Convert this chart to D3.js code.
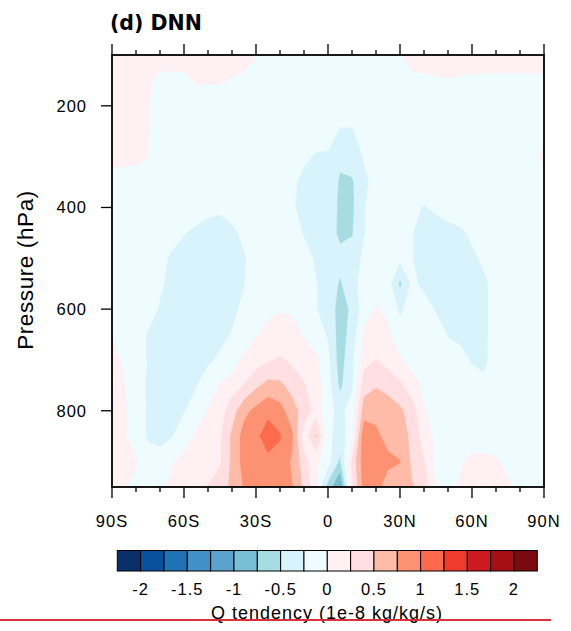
<!DOCTYPE html>
<html><head><meta charset="utf-8">
<script src="https://cdn.jsdelivr.net/npm/d3@7"></script>
<style>body{margin:0;background:#fff}svg{display:block}</style>
</head><body>
<svg id="c" width="571" height="631"></svg>
<script>
// ---- data ----
const lats = [-90,-85,-80,-75,-70,-65,-60,-55,-50,-45,-40,-35,-30,-25,-20,-15,-10,-5,0,5,10,15,20,25,30,35,40,45,50,55,60,65,70,75,80,85,90];
const levels = [100,150,200,250,300,350,400,450,500,550,600,650,700,750,800,850,900,950];

// Q tendency (1e-8 kg/kg/s), one row per pressure level, lat -90..90
const q100 = [0.1,0.1,0.1,0.1,0.1,0.1,0.1,0.1,0.1,0.1,0.1,0.1, 0.01,-0.1,-0.1,-0.1,-0.1,-0.1,-0.1,-0.1,-0.1,-0.1,-0.1,-0.1, -0.02,0.1,0.1,0.1,0.1,0.1,0.1,0.1,0.1,0.1,0.1,0.1,0.1];
const q150 = [0.1,0.1,0.1,0.03,-0.05,-0.06,-0.05,0.02,0.02,0.02,-0.01,-0.05, -0.1,-0.1,-0.1,-0.1,-0.1,-0.1,-0.1,-0.1,-0.1,-0.1,-0.1,-0.1, -0.08,-0.06,-0.04,-0.02,-0.01,-0.02,-0.03,-0.04,-0.04,-0.04,-0.04,-0.04,-0.03];
const q200 = [0.1,0.1,0.08,0.01,-0.1,-0.1,-0.1,-0.1,-0.1,-0.1,-0.1,-0.1, -0.1,-0.1,-0.1,-0.1,-0.1,-0.1,-0.1,-0.12,-0.12,-0.1,-0.1,-0.1, -0.1,-0.1,-0.1,-0.1,-0.1,-0.1,-0.1,-0.1,-0.1,-0.1,-0.1,-0.1,-0.08];
const q250 = [0.1,0.1,0.08,0.01,-0.1,-0.1,-0.1,-0.1,-0.1,-0.1,-0.1,-0.1, -0.1,-0.1,-0.1,-0.1,-0.1,-0.1,-0.15,-0.27,-0.27,-0.15,-0.1,-0.1, -0.1,-0.1,-0.1,-0.1,-0.1,-0.1,-0.1,-0.1,-0.1,-0.1,-0.1,-0.1,-0.05];
const q300 = [0.1,0.08,0.05,0.005,-0.1,-0.1,-0.1,-0.1,-0.1,-0.1,-0.1,-0.1, -0.1,-0.1,-0.1,-0.1,-0.2,-0.28,-0.28,-0.45,-0.38,-0.23,-0.15,-0.1, -0.1,-0.1,-0.1,-0.1,-0.1,-0.1,-0.1,-0.1,-0.1,-0.1,-0.1,-0.08,0.05];
const q350 = [-0.15,-0.12,-0.1,-0.1,-0.1,-0.1,-0.1,-0.1,-0.1,-0.1,-0.1,-0.1, -0.1,-0.1,-0.1,-0.2,-0.32,-0.33,-0.35,-0.53,-0.53,-0.3,-0.18,-0.1, -0.1,-0.1,-0.1,-0.1,-0.1,-0.1,-0.1,-0.1,-0.1,-0.1,-0.1,-0.1,-0.08];
const q400 = [-0.12,-0.1,-0.1,-0.1,-0.1,-0.1,-0.1,-0.12,-0.2,-0.22,-0.15,-0.1, -0.1,-0.1,-0.1,-0.22,-0.32,-0.33,-0.35,-0.55,-0.55,-0.26,-0.15,-0.12, -0.12,-0.18,-0.27,-0.2,-0.12,-0.1,-0.1,-0.1,-0.1,-0.1,-0.1,-0.1,-0.1];
const q450 = [-0.1,-0.1,-0.1,-0.1,-0.12,-0.18,-0.24,-0.3,-0.32,-0.33,-0.3,-0.2, -0.12,-0.1,-0.1,-0.12,-0.27,-0.33,-0.36,-0.56,-0.52,-0.26,-0.15,-0.1, -0.15,-0.24,-0.35,-0.37,-0.35,-0.3,-0.2,-0.15,-0.12,-0.1,-0.1,-0.1,-0.1];
const q500 = [-0.1,-0.1,-0.1,-0.12,-0.2,-0.28,-0.33,-0.35,-0.36,-0.36,-0.33,-0.27, -0.15,-0.1,-0.1,-0.1,-0.15,-0.28,-0.35,-0.42,-0.38,-0.2,-0.12,-0.12, -0.2,-0.24,-0.35,-0.37,-0.37,-0.35,-0.3,-0.2,-0.12,-0.1,-0.1,-0.1,-0.1];
const q550 = [-0.1,-0.1,-0.1,-0.12,-0.22,-0.3,-0.35,-0.36,-0.36,-0.35,-0.32,-0.26, -0.14,-0.1,-0.1,-0.1,-0.12,-0.24,-0.34,-0.53,-0.34,-0.15,-0.1,-0.15, -0.55,-0.2,-0.3,-0.35,-0.37,-0.36,-0.34,-0.3,-0.15,-0.1,-0.1,-0.1,-0.1];
const q600 = [-0.1,-0.1,-0.12,-0.15,-0.27,-0.33,-0.34,-0.35,-0.34,-0.33,-0.3,-0.2, -0.1,-0.05,-0.02,-0.03,-0.1,-0.24,-0.33,-0.62,-0.45,-0.12,0.02,-0.05, -0.3,-0.12,-0.15,-0.27,-0.33,-0.35,-0.33,-0.3,-0.15,-0.1,-0.1,-0.1,-0.1];
const q650 = [-0.02,-0.08,-0.12,-0.27,-0.33,-0.34,-0.34,-0.33,-0.33,-0.3,-0.24,-0.15, -0.02,0.07,0.12,0.1,-0.02,-0.15,-0.27,-0.62,-0.4,0.05,0.12,0.05, -0.15,-0.12,-0.12,-0.15,-0.26,-0.3,-0.32,-0.3,-0.15,-0.1,-0.1,-0.1,-0.1];
const q700 = [0.1,-0.05,-0.12,-0.27,-0.33,-0.33,-0.32,-0.3,-0.28,-0.22,-0.15,0.05, 0.12,0.22,0.28,0.2,0.12,0.06,-0.2,-0.62,-0.3,0.15,0.26,0.15, 0.03,-0.08,-0.1,-0.12,-0.15,-0.18,-0.27,-0.3,-0.14,-0.1,-0.1,-0.1,-0.1];
const q750 = [0.1,0.01,-0.12,-0.28,-0.32,-0.3,-0.28,-0.26,-0.15,0.03,0.15,0.26, 0.45,0.58,0.55,0.42,0.27,0.1,-0.15,-0.55,-0.3,0.4,0.48,0.4, 0.3,0.1,-0.05,-0.08,-0.1,-0.12,-0.15,-0.2,-0.12,-0.1,-0.1,-0.1,-0.1];
const q800 = [0.1,0.03,-0.1,-0.28,-0.3,-0.28,-0.26,-0.18,0.01,0.15,0.38,0.68, 0.82,0.95,0.85,0.6,0.4,0.15,-0.15,-0.35,-0.1,0.62,0.68,0.65, 0.55,0.38,0.02,-0.08,-0.1,-0.1,-0.1,-0.1,-0.1,-0.1,-0.1,-0.1,-0.1];
const q850 = [0.1,0.03,-0.1,-0.28,-0.3,-0.26,-0.15,0.05,0.15,0.22,0.55,0.85, 0.95,1.1,1.02,0.8,0.1,0.52,-0.18,-0.38,-0.1,0.95,0.8,0.68, 0.6,0.45,0.12,-0.05,-0.1,-0.08,-0.1,-0.1,-0.1,-0.1,-0.1,-0.1,-0.1];
const q900 = [0.1,0.05,0.02,-0.15,-0.18,-0.02,0.1,0.12,0.15,0.22,0.55,0.85, 0.9,0.95,0.9,0.72,0.35,0.05,-0.15,-0.55,0.3,0.9,0.85,0.8, 0.76,0.45,0.27,-0.05,-0.1,-0.02,0.05,0.05,0.03,-0.05,-0.1,-0.1,-0.1];
const q950 = [0.05,0.02,-0.05,-0.1,-0.05,0.05,0.1,0.12,0.26,0.38,0.55,0.77, 0.85,0.9,0.88,0.76,0.45,0.05,-0.6,-1.05,0.2,0.85,0.82,0.65, 0.6,0.52,0.4,-0.01,-0.05,0.02,0.08,0.1,0.08,0.03,-0.05,-0.1,-0.1];

const thresholds = [-2,-1.75,-1.5,-1.25,-1,-0.75,-0.5,-0.25,0,0.25,0.5,0.75,1,1.25,1.5,1.75,2];
const colors = ["#0a2f6b","#0a519d","#2171b5","#4191c6","#5ba3cb","#78bfd5","#a8dce3","#d8f3fc","#eefbff",
                "#fff0f4","#ffdfe1","#fdbba8","#fc9272","#fd6a4c","#ef3b2c","#cc1a20","#a51016","#7a0a0e"];
const xTicks = [-90,-60,-30,0,30,60,90];
const xTickLabels = ["90S","60S","30S","0","30N","60N","90N"];
const xMinor = [-80,-70,-50,-40,-20,-10,10,20,40,50,70,80];
const yTicks = [200,400,600,800];
const cbLabels = ["-2","-1.5","-1","-0.5","0","0.5","1","1.5","2"];
const cbLabelAt = [-2,-1.5,-1,-0.5,0,0.5,1,1.5,2];

// ---- layout ----
const L = 112, R = 544, T = 55, B = 487;
const svg = d3.select("#c");
const x = d3.scaleLinear().domain([-90, 90]).range([L, R]);
const y = d3.scaleLinear().domain([100, 950]).range([T, B]);

const rows = [q100,q150,q200,q250,q300,q350,q400,q450,q500,q550,q600,q650,q700,q750,q800,q850,q900,q950];
const nx = lats.length, ny = levels.length;
const values = rows.flat();
const gLat = d3.scaleLinear().domain([0.5, nx - 0.5]).range([lats[0], lats[nx - 1]]);
const gP = d3.scaleLinear().domain([0.5, ny - 0.5]).range([levels[0], levels[ny - 1]]);
const proj = d3.geoTransform({ point(gx, gy) { this.stream.point(x(gLat(gx)), y(gP(gy))); } });
const path = d3.geoPath(proj);

svg.append("clipPath").attr("id", "clip").append("rect")
  .attr("x", L).attr("y", T).attr("width", R - L).attr("height", B - T);
const plot = svg.append("g").attr("clip-path", "url(#clip)");
plot.append("rect").attr("x", L).attr("y", T).attr("width", R - L).attr("height", B - T).attr("fill", colors[0]);
const cs = d3.contours().size([nx, ny]).thresholds(thresholds)(values);
plot.selectAll("path.c").data(cs).join("path").attr("class", "c")
  .attr("d", path)
  .attr("fill", (d, i) => colors[i + 1])
  .attr("stroke", (d, i) => colors[i + 1]).attr("stroke-width", 0.3);

// frame
svg.append("rect").attr("x", L).attr("y", T).attr("width", R - L).attr("height", B - T)
  .attr("fill", "none").attr("stroke", "#000").attr("stroke-width", 1.8);

// ticks
const tk = svg.append("g").attr("stroke", "#000").attr("stroke-width", 1.3);
xTicks.forEach(v => {
  tk.append("line").attr("x1", x(v)).attr("x2", x(v)).attr("y1", B).attr("y2", B + 11);
  tk.append("line").attr("x1", x(v)).attr("x2", x(v)).attr("y1", T).attr("y2", T - 11);
});
xMinor.forEach(v => {
  tk.append("line").attr("x1", x(v)).attr("x2", x(v)).attr("y1", B).attr("y2", B + 5);
  tk.append("line").attr("x1", x(v)).attr("x2", x(v)).attr("y1", T).attr("y2", T - 5);
});
yTicks.forEach(v => {
  tk.append("line").attr("x1", L).attr("x2", L - 11).attr("y1", y(v)).attr("y2", y(v));
});

const font = "'Liberation Sans', Arial, Helvetica, sans-serif";
xTicks.forEach((v, i) => {
  svg.append("text").attr("x", x(v)).attr("y", 527).attr("text-anchor", "middle")
    .attr("font-family", font).attr("font-size", 16.5).attr("letter-spacing", "1px")
    .text(xTickLabels[i]);
});
yTicks.forEach(v => {
  svg.append("text").attr("x", 87).attr("y", y(v) + 6).attr("text-anchor", "end")
    .attr("font-family", font).attr("font-size", 16.5).attr("letter-spacing", "1px")
    .text(v);
});
svg.append("text").attr("transform", "translate(33,270) rotate(-90)").attr("text-anchor", "middle")
  .attr("font-family", font).attr("font-size", 22.5).attr("letter-spacing", "0.6px").text("Pressure (hPa)");
svg.append("text").attr("x", 110).attr("y", 30)
  .attr("font-family", "'DejaVu Sans', sans-serif").attr("font-weight", "bold").attr("font-size", 20.5)
  .text("(d) DNN");

// colorbar
const cbX = 117.3, cbW = 420, cbY = 550.5, cbH = 20.5;
const cbScale = d3.scaleLinear().domain([-2.25, 2.25]).range([cbX, cbX + cbW]);
const cbBins = d3.range(colors.length).map(i => i === 0 ? -2.25 : thresholds[i - 1]);
svg.append("g").selectAll("rect").data(colors).join("rect")
  .attr("x", (d, i) => cbScale(cbBins[i]))
  .attr("y", cbY).attr("width", cbW / colors.length).attr("height", cbH)
  .attr("fill", d => d).attr("stroke", "#000").attr("stroke-width", 1);
cbLabels.forEach((t, i) => {
  svg.append("text").attr("x", cbScale(cbLabelAt[i])).attr("y", 595).attr("text-anchor", "middle")
    .attr("font-family", font).attr("font-size", 16.5).attr("letter-spacing", "1px").text(t);
});
svg.append("text").attr("x", 327).attr("y", 619).attr("text-anchor", "middle")
  .attr("font-family", font).attr("font-size", 18).attr("letter-spacing", "1px")
  .text("Q tendency (1e-8 kg/kg/s)");
svg.append("line").attr("x1", 0).attr("x2", 551).attr("y1", 620).attr("y2", 620)
  .attr("stroke", "#d9303e").attr("stroke-width", 2);
</script>
</body></html>
